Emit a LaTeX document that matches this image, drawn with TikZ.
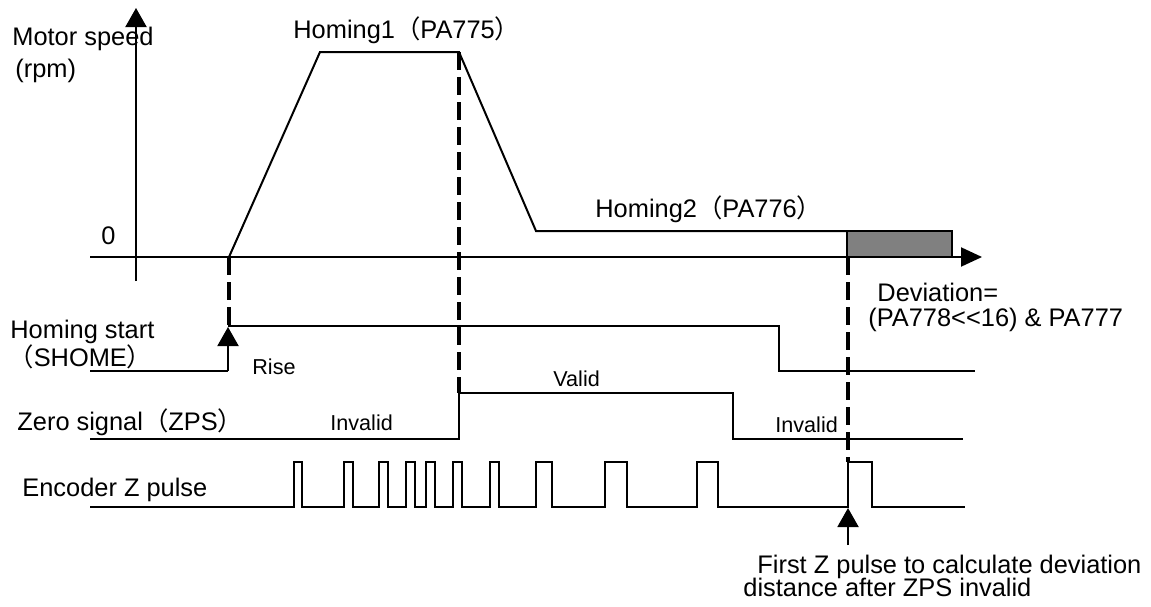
\documentclass[tikz,border=0pt]{standalone}
\usepackage{fontspec}
\setmainfont{Liberation Sans}
\newfontfamily\cjk{Noto Sans CJK SC}
\usetikzlibrary{arrows.meta}
\definecolor{boxgray}{RGB}{128,128,128}
\newcommand{\lp}{{\cjk （}}
\newcommand{\rp}{{\cjk ）}}
\begin{document}
\begin{tikzpicture}[x=0.5pt,y=-0.5pt,
  sig/.style={line width=1pt, line join=miter},
  guide/.style={line width=2pt, dash pattern=on 9pt off 3.5pt},
  lbl/.style={anchor=base west, inner sep=0pt, font=\fontsize{12.7}{15}\selectfont},
  small/.style={anchor=base west, inner sep=0pt, font=\fontsize{10.8}{13}\selectfont},
  tri/.style={-{Triangle[length=9.5pt,width=10.5pt]}}
]
\useasboundingbox (0,0) rectangle (1151,606);

% axes
\coordinate (yb) at (136,281);
\coordinate (yt) at (136,8);
\coordinate (xl) at (90,257);
\coordinate (xr) at (982,257);
\draw[sig,-{Triangle[length=9.5pt,width=10.5pt]}] (yb) -- (yt);
\draw[sig,-{Triangle[length=10.5pt,width=9.5pt]}] (xl) -- (xr);

% speed profile
\coordinate (s0) at (229,257);
\coordinate (s1) at (320,52);
\coordinate (s2) at (459,52);
\coordinate (s3) at (536,231);
\coordinate (s4) at (847,231);
\coordinate (g2) at (952,257);
\draw[sig] (s0) -- (s1) -- (s2) -- (s3) -- (s4);
\draw[sig, fill=boxgray] (s4) rectangle (g2);

% SHOME
\coordinate (h0) at (90,371);
\coordinate (h1) at (228,371);
\coordinate (h2) at (228,327);
\coordinate (h3) at (228,326);
\coordinate (h4) at (779,326);
\coordinate (h5) at (779,371);
\coordinate (h6) at (975,371);
\draw[sig] (h0) -- (h1);
\draw[sig,tri] (h1) -- (h2);
\draw[sig] (h3) -- (h4) -- (h5) -- (h6);

% ZPS
\coordinate (z0) at (90,439);
\coordinate (z1) at (459,439);
\coordinate (z2) at (459,393);
\coordinate (z3) at (733,393);
\coordinate (z4) at (733,439);
\coordinate (z5) at (963,439);
\draw[sig] (z0) -- (z1) -- (z2) -- (z3) -- (z4) -- (z5);

% Encoder Z pulse
\coordinate (e0) at (90,507);
\coordinate (e1) at (965,507);
\draw[sig] (e0)
  \foreach \a/\b in {294/302,344/353,379/388,406/415,426/435,453/462,490/499,536/552,605/627,697/718,848/872}
  { -- (\a,507) -- (\a,462) -- (\b,462) -- (\b,507) } -- (e1);

% dashed guides
\coordinate (d1b) at (229,327);
\coordinate (d2b) at (459,393);
\coordinate (d3t) at (848,257);
\coordinate (d3b) at (848,462);
\draw[guide] (s0) -- (d1b);
\draw[guide] (s2) -- (d2b);
\draw[guide] (d3t) -- (d3b);

% first Z pulse arrow
\coordinate (fa0) at (848,545);
\coordinate (fa1) at (848,508);
\draw[sig,tri] (fa0) -- (fa1);

% labels
\node[lbl] (tms) at (12,45) {Motor speed};
\node[lbl] (trpm) at (15,77) {(rpm)};
\node[lbl] (th1) at (293,38) {Homing1\lp PA775\rp};
\node[lbl] (th2) at (595,217) {Homing2\lp PA776\rp};
\node[lbl] (tzero) at (101,244) {0};
\node[lbl] (tdev1) at (877,301) {Deviation=};
\node[lbl] (tdev2) at (868,326) {(PA778{<}{<}16) \& PA777};
\node[lbl] (ths1) at (10,338) {Homing start};
\node[lbl] (ths2) at (8,366) {\lp SHOME\rp};
\node[small] (trise) at (252,374) {Rise};
\node[lbl] (tzps) at (17,430) {Zero signal\lp ZPS\rp};
\node[small] (tinv1) at (330,430) {Invalid};
\node[small] (tvalid) at (553,386) {Valid};
\node[small] (tinv2) at (775,432) {Invalid};
\node[lbl] (tenc) at (22,496) {Encoder Z pulse};
\node[lbl] (tfz1) at (757,573) {First Z pulse to calculate deviation};
\node[lbl] (tfz2) at (743,596) {distance after ZPS invalid};
\end{tikzpicture}
\end{document}
